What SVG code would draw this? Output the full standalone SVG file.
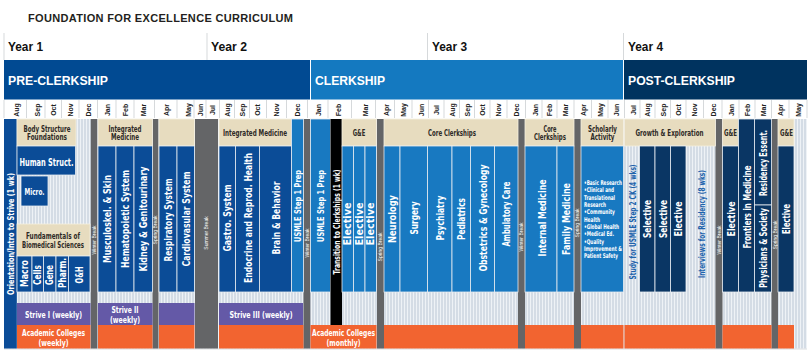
<svg xmlns="http://www.w3.org/2000/svg" width="810" height="361" viewBox="0 0 810 361">
<defs>
<pattern id="stripe" patternUnits="userSpaceOnUse" x="0" y="0" width="3" height="10">
<rect width="3" height="10" fill="#d4dce5"/>
<rect x="2" width="1" height="10" fill="#eef2f6"/>
</pattern>
<style>
.title{font-family:"Liberation Sans",Arial,sans-serif;font-weight:700;font-size:11px;fill:#231f20}
.yr{font-family:"Liberation Sans",Arial,sans-serif;font-weight:700;font-size:13px;fill:#111}
.ph{font-family:"Liberation Sans",Arial,sans-serif;font-weight:700;font-size:13.5px;fill:#fff}
.mo{font-family:"Liberation Sans",Arial,sans-serif;font-weight:700;font-size:7px;fill:#222;text-anchor:middle}
.c{font-family:"Liberation Sans Narrow","DejaVu Sans Condensed","Liberation Sans",sans-serif;font-weight:700;text-anchor:middle}
.cl{font-family:"Liberation Sans Narrow","DejaVu Sans Condensed","Liberation Sans",sans-serif;font-weight:700;font-size:6.5px;fill:#fff}
.w{fill:#fff}
.d{fill:#2e2a26}
.bl{fill:#1d63ac}
.brk{font-family:"Liberation Sans",Arial,sans-serif;font-size:5px;fill:#fff;text-anchor:middle}
.db{fill:#0b4c97;stroke:#e6ebf1;stroke-width:0.8}
.mb{fill:#1879c1;stroke:#e6ebf1;stroke-width:0.8}
.nv{fill:#0a3664;stroke:#e6ebf1;stroke-width:0.8}
.tan{fill:#e7dcbf;stroke:#f4efe2;stroke-width:0.8}
.pu{fill:#6459a7}
.or{fill:#f26430}
.gr{fill:#646567}
.sep{stroke:#c4c8cc;stroke-width:0.7}
</style>
</defs>

<rect width="810" height="361" fill="#fff"/>

<g id="title">
<text class="title" x="28" y="22" textLength="265" lengthAdjust="spacing">FOUNDATION FOR EXCELLENCE CURRICULUM</text>
</g>

<g id="years">
<line class="sep" x1="4" y1="33" x2="4" y2="60"/>
<line class="sep" x1="207" y1="33" x2="207" y2="60"/>
<line class="sep" x1="427.5" y1="33" x2="427.5" y2="60"/>
<line class="sep" x1="623.5" y1="33" x2="623.5" y2="60"/>
<text class="yr" x="8" y="51" textLength="35" lengthAdjust="spacingAndGlyphs">Year 1</text>
<text class="yr" x="211" y="51" textLength="36" lengthAdjust="spacingAndGlyphs">Year 2</text>
<text class="yr" x="432" y="51" textLength="35" lengthAdjust="spacingAndGlyphs">Year 3</text>
<text class="yr" x="628" y="51" textLength="35" lengthAdjust="spacingAndGlyphs">Year 4</text>
</g>

<g id="phases">
<rect x="4" y="60" width="306" height="39.5" fill="#014a92"/>
<rect x="311" y="60" width="312" height="39.5" fill="#1479c0"/>
<rect x="624" y="60" width="183" height="39.5" fill="#00335f"/>
<text class="ph" x="8" y="85" textLength="100" lengthAdjust="spacingAndGlyphs">PRE-CLERKSHIP</text>
<text class="ph" x="315" y="85" textLength="70" lengthAdjust="spacingAndGlyphs">CLERKSHIP</text>
<text class="ph" x="628" y="85" textLength="107" lengthAdjust="spacingAndGlyphs">POST-CLERKSHIP</text>
</g>

<g id="months">
<g>
<line class="sep" x1="4" y1="100" x2="4" y2="118"/>
<line class="sep" x1="26.5" y1="100" x2="26.5" y2="118"/>
<line class="sep" x1="45" y1="100" x2="45" y2="118"/>
<line class="sep" x1="61.5" y1="100" x2="61.5" y2="118"/>
<line class="sep" x1="79" y1="100" x2="79" y2="118"/>
<line class="sep" x1="97.5" y1="100" x2="97.5" y2="118"/>
<line class="sep" x1="116" y1="100" x2="116" y2="118"/>
<line class="sep" x1="134" y1="100" x2="134" y2="118"/>
<line class="sep" x1="154.5" y1="100" x2="154.5" y2="118"/>
<line class="sep" x1="177" y1="100" x2="177" y2="118"/>
<line class="sep" x1="194" y1="100" x2="194" y2="118"/>
<line class="sep" x1="206" y1="100" x2="206" y2="118"/>
<line class="sep" x1="219.5" y1="100" x2="219.5" y2="118"/>
<line class="sep" x1="234.5" y1="100" x2="234.5" y2="118"/>
<line class="sep" x1="249.5" y1="100" x2="249.5" y2="118"/>
<line class="sep" x1="266.5" y1="100" x2="266.5" y2="118"/>
<line class="sep" x1="286.5" y1="100" x2="286.5" y2="118"/>
<line class="sep" x1="307.5" y1="100" x2="307.5" y2="118"/>
<line class="sep" x1="328" y1="100" x2="328" y2="118"/>
<line class="sep" x1="351.5" y1="100" x2="351.5" y2="118"/>
<line class="sep" x1="375.5" y1="100" x2="375.5" y2="118"/>
<line class="sep" x1="394.5" y1="100" x2="394.5" y2="118"/>
<line class="sep" x1="412" y1="100" x2="412" y2="118"/>
<line class="sep" x1="428.5" y1="100" x2="428.5" y2="118"/>
<line class="sep" x1="444" y1="100" x2="444" y2="118"/>
<line class="sep" x1="459.5" y1="100" x2="459.5" y2="118"/>
<line class="sep" x1="474.5" y1="100" x2="474.5" y2="118"/>
<line class="sep" x1="490" y1="100" x2="490" y2="118"/>
<line class="sep" x1="507" y1="100" x2="507" y2="118"/>
<line class="sep" x1="525.5" y1="100" x2="525.5" y2="118"/>
<line class="sep" x1="542" y1="100" x2="542" y2="118"/>
<line class="sep" x1="557" y1="100" x2="557" y2="118"/>
<line class="sep" x1="574" y1="100" x2="574" y2="118"/>
<line class="sep" x1="591.5" y1="100" x2="591.5" y2="118"/>
<line class="sep" x1="608" y1="100" x2="608" y2="118"/>
<line class="sep" x1="624.5" y1="100" x2="624.5" y2="118"/>
<line class="sep" x1="640" y1="100" x2="640" y2="118"/>
<line class="sep" x1="655" y1="100" x2="655" y2="118"/>
<line class="sep" x1="670.5" y1="100" x2="670.5" y2="118"/>
<line class="sep" x1="686" y1="100" x2="686" y2="118"/>
<line class="sep" x1="703.5" y1="100" x2="703.5" y2="118"/>
<line class="sep" x1="722" y1="100" x2="722" y2="118"/>
<line class="sep" x1="739" y1="100" x2="739" y2="118"/>
<line class="sep" x1="755" y1="100" x2="755" y2="118"/>
<line class="sep" x1="771.5" y1="100" x2="771.5" y2="118"/>
<line class="sep" x1="789" y1="100" x2="789" y2="118"/>
<line class="sep" x1="807" y1="100" x2="807" y2="118"/>
</g>
<text class="mo" transform="translate(16,110) rotate(-90)" y="2.5">Aug</text>
<text class="mo" transform="translate(37,110) rotate(-90)" y="2.5">Sep</text>
<text class="mo" transform="translate(53,110) rotate(-90)" y="2.5">Oct</text>
<text class="mo" transform="translate(70,110) rotate(-90)" y="2.5">Nov</text>
<text class="mo" transform="translate(88,110) rotate(-90)" y="2.5">Dec</text>
<text class="mo" transform="translate(107,110) rotate(-90)" y="2.5">Jan</text>
<text class="mo" transform="translate(125,110) rotate(-90)" y="2.5">Feb</text>
<text class="mo" transform="translate(143,110) rotate(-90)" y="2.5">Mar</text>
<text class="mo" transform="translate(166,110) rotate(-90)" y="2.5">Apr</text>
<text class="mo" transform="translate(188,110) rotate(-90)" y="2.5">May</text>
<text class="mo" transform="translate(200,110) rotate(-90)" y="2.5">Jun</text>
<text class="mo" transform="translate(212,110) rotate(-90)" y="2.5">Jul</text>
<text class="mo" transform="translate(227,110) rotate(-90)" y="2.5">Aug</text>
<text class="mo" transform="translate(242,110) rotate(-90)" y="2.5">Sep</text>
<text class="mo" transform="translate(257,110) rotate(-90)" y="2.5">Oct</text>
<text class="mo" transform="translate(276,110) rotate(-90)" y="2.5">Nov</text>
<text class="mo" transform="translate(297,110) rotate(-90)" y="2.5">Dec</text>
<text class="mo" transform="translate(318,110) rotate(-90)" y="2.5">Jan</text>
<text class="mo" transform="translate(338,110) rotate(-90)" y="2.5">Feb</text>
<text class="mo" transform="translate(365,110) rotate(-90)" y="2.5">Mar</text>
<text class="mo" transform="translate(386,110) rotate(-90)" y="2.5">Apr</text>
<text class="mo" transform="translate(403,110) rotate(-90)" y="2.5">May</text>
<text class="mo" transform="translate(421,110) rotate(-90)" y="2.5">Jun</text>
<text class="mo" transform="translate(436,110) rotate(-90)" y="2.5">Jul</text>
<text class="mo" transform="translate(452,110) rotate(-90)" y="2.5">Aug</text>
<text class="mo" transform="translate(467,110) rotate(-90)" y="2.5">Sep</text>
<text class="mo" transform="translate(482,110) rotate(-90)" y="2.5">Oct</text>
<text class="mo" transform="translate(498,110) rotate(-90)" y="2.5">Nov</text>
<text class="mo" transform="translate(516,110) rotate(-90)" y="2.5">Dec</text>
<text class="mo" transform="translate(535,110) rotate(-90)" y="2.5">Jan</text>
<text class="mo" transform="translate(549,110) rotate(-90)" y="2.5">Feb</text>
<text class="mo" transform="translate(565,110) rotate(-90)" y="2.5">Mar</text>
<text class="mo" transform="translate(583,110) rotate(-90)" y="2.5">Apr</text>
<text class="mo" transform="translate(600,110) rotate(-90)" y="2.5">May</text>
<text class="mo" transform="translate(616,110) rotate(-90)" y="2.5">Jun</text>
<text class="mo" transform="translate(633,110) rotate(-90)" y="2.5">Jul</text>
<text class="mo" transform="translate(647,110) rotate(-90)" y="2.5">Aug</text>
<text class="mo" transform="translate(663,110) rotate(-90)" y="2.5">Sep</text>
<text class="mo" transform="translate(678,110) rotate(-90)" y="2.5">Oct</text>
<text class="mo" transform="translate(694,110) rotate(-90)" y="2.5">Nov</text>
<text class="mo" transform="translate(713,110) rotate(-90)" y="2.5">Dec</text>
<text class="mo" transform="translate(731,110) rotate(-90)" y="2.5">Jan</text>
<text class="mo" transform="translate(747,110) rotate(-90)" y="2.5">Feb</text>
<text class="mo" transform="translate(763,110) rotate(-90)" y="2.5">Mar</text>
<text class="mo" transform="translate(780,110) rotate(-90)" y="2.5">Apr</text>
<text class="mo" transform="translate(798,110) rotate(-90)" y="2.5">May</text>
</g>

<g id="background">
<rect x="4" y="119" width="803" height="229.5" fill="url(#stripe)"/>
<line x1="4" y1="349" x2="807" y2="349" stroke="#d0d4d8" stroke-width="0.8"/>
</g>

<g id="breaks">
<rect class="gr" x="90.8" y="119" width="6.5" height="229.5"/>
<rect class="gr" x="152.5" y="119" width="6" height="229.5"/>
<rect class="gr" x="195" y="119" width="23" height="229.5"/>
<rect class="gr" x="303.5" y="119" width="6.8" height="229.5"/>
<rect class="gr" x="377" y="119" width="7" height="229.5"/>
<rect class="gr" x="518" y="119" width="7" height="229.5"/>
<rect class="gr" x="574" y="119" width="7" height="229.5"/>
<rect class="gr" x="715.5" y="119" width="7" height="229.5"/>
<rect class="gr" x="771.5" y="119" width="6.5" height="229.5"/>
<text class="brk" transform="translate(94,240) rotate(-90)" y="1.8">Winter Break</text>
<text class="brk" transform="translate(155.5,230) rotate(-90)" y="1.8">Spring Break</text>
<text class="brk" transform="translate(206.5,233) rotate(-90)" y="1.8">Summer Break</text>
<text class="brk" transform="translate(307,243) rotate(-90)" y="1.8">Winter Break</text>
<text class="brk" transform="translate(380.5,247) rotate(-90)" y="1.8">Spring Break</text>
<text class="brk" transform="translate(521.5,237) rotate(-90)" y="1.8">Winter Break</text>
<text class="brk" transform="translate(577.5,223) rotate(-90)" y="1.8">Spring Break</text>
<text class="brk" transform="translate(719,240) rotate(-90)" y="1.8">Winter Break</text>
<text class="brk" transform="translate(775,235) rotate(-90)" y="1.8">Spring Break</text>
</g>

<g id="orientation">
<rect x="4" y="119" width="12.8" height="229.5" fill="#0b4c97"/>
<text class="c w" transform="translate(10.5,234) rotate(-90)" y="3.2" font-size="9" textLength="122" lengthAdjust="spacingAndGlyphs">Orientation/Intro to Strive (1 wk)</text>
</g>

<g id="body-structure">
<rect class="tan" x="17" y="119" width="59" height="27"/>
<text class="c d" x="47" y="131.5" font-size="8.5" textLength="47" lengthAdjust="spacingAndGlyphs">Body Structure</text>
<text class="c d" x="47" y="140" font-size="8.5" textLength="40" lengthAdjust="spacingAndGlyphs">Foundations</text>
</g>
<g id="human-struct">
<rect class="db" x="17" y="146" width="58.5" height="29"/>
<text class="c w" x="46.5" y="165.5" font-size="11" textLength="54" lengthAdjust="spacingAndGlyphs">Human Struct.</text>
</g>
<g id="micro">
<rect class="db" x="21" y="176" width="27" height="30"/>
<text class="c w" x="34.5" y="194.5" font-size="9.5" textLength="20" lengthAdjust="spacingAndGlyphs">Micro.</text>
</g>
<g id="fundamentals">
<rect class="tan" x="17" y="224" width="73" height="32"/>
<text class="c d" x="53" y="239" font-size="9" textLength="54" lengthAdjust="spacingAndGlyphs">Fundamentals of</text>
<text class="c d" x="53" y="248" font-size="9" textLength="62" lengthAdjust="spacingAndGlyphs">Biomedical Sciences</text>
</g>
<g id="macro">
<rect class="db" x="17" y="256" width="15" height="36"/>
<text class="c w" transform="translate(24.5,273.5) rotate(-90)" y="3.6" font-size="10" textLength="27" lengthAdjust="spacingAndGlyphs">Macro</text>
</g>
<g id="cells">
<rect class="db" x="32" y="256" width="11.5" height="36"/>
<text class="c w" transform="translate(37.8,275) rotate(-90)" y="3.6" font-size="10" textLength="20" lengthAdjust="spacingAndGlyphs">Cells</text>
</g>
<g id="gene">
<rect class="db" x="43.5" y="256" width="12.5" height="36"/>
<text class="c w" transform="translate(49.8,275) rotate(-90)" y="3.6" font-size="10" textLength="20" lengthAdjust="spacingAndGlyphs">Gene</text>
</g>
<g id="pharm">
<rect class="db" x="56" y="256" width="12.5" height="36"/>
<text class="c w" transform="translate(62.3,273) rotate(-90)" y="3.6" font-size="10" textLength="30" lengthAdjust="spacingAndGlyphs">Pharm.</text>
</g>
<g id="oh">
<rect class="db" x="68.5" y="256" width="21.5" height="36"/>
<text class="c w" transform="translate(79.5,275) rotate(-90)" y="3.6" font-size="10" textLength="17" lengthAdjust="spacingAndGlyphs">O&amp;H</text>
</g>
<g id="strive1">
<rect class="pu" x="17" y="303" width="73.5" height="22"/>
<text class="c w" x="53.5" y="317.5" font-size="9.5" textLength="57" lengthAdjust="spacingAndGlyphs">Strive I (weekly)</text>
</g>
<g id="colleges-weekly">
<rect class="or" x="17" y="325" width="73.5" height="23.5"/>
<text class="c w" x="53.5" y="335.5" font-size="9.5" textLength="63" lengthAdjust="spacingAndGlyphs">Academic Colleges</text>
<text class="c w" x="53.5" y="346" font-size="9.5" textLength="30" lengthAdjust="spacingAndGlyphs">(weekly)</text>
</g>

<g id="integrated-medicine-1">
<rect class="tan" x="98" y="119" width="54.5" height="27"/>
<text class="c d" x="125" y="131.5" font-size="8.5" textLength="33" lengthAdjust="spacingAndGlyphs">Integrated</text>
<text class="c d" x="125" y="140" font-size="8.5" textLength="28" lengthAdjust="spacingAndGlyphs">Medicine</text>
</g>
<g id="musculoskel">
<rect class="db" x="98" y="146" width="18" height="146"/>
<text class="c w" transform="translate(107,219) rotate(-90)" y="4" font-size="11" textLength="88" lengthAdjust="spacingAndGlyphs">Musculoskel. &amp; Skin</text>
</g>
<g id="hematopoietic">
<rect class="db" x="116" y="146" width="18" height="146"/>
<text class="c w" transform="translate(125,219) rotate(-90)" y="4" font-size="11" textLength="98" lengthAdjust="spacingAndGlyphs">Hematopoietic System</text>
</g>
<g id="kidney">
<rect class="db" x="134" y="146" width="18.5" height="146"/>
<text class="c w" transform="translate(143.3,219) rotate(-90)" y="4" font-size="11" textLength="105" lengthAdjust="spacingAndGlyphs">Kidney &amp; Genitourinary</text>
</g>
<g id="strive2">
<rect class="pu" x="98" y="303" width="54.5" height="22"/>
<text class="c w" x="125" y="312.5" font-size="9.5" textLength="27" lengthAdjust="spacingAndGlyphs">Strive II</text>
<text class="c w" x="125" y="323" font-size="9.5" textLength="30" lengthAdjust="spacingAndGlyphs">(weekly)</text>
</g>
<g id="colleges-y1b">
<rect class="or" x="98" y="325" width="54.5" height="23.5"/>
</g>

<g id="spring-block-y1">
<rect class="tan" x="159" y="119" width="35.5" height="27"/>
<rect class="pu" x="159" y="303" width="35.5" height="22"/>
<rect class="or" x="159" y="325" width="35.5" height="23.5"/>
</g>
<g id="respiratory">
<rect class="db" x="159" y="146" width="18" height="146"/>
<text class="c w" transform="translate(168,220) rotate(-90)" y="4" font-size="11" textLength="83" lengthAdjust="spacingAndGlyphs">Respiratory System</text>
</g>
<g id="cardiovascular">
<rect class="db" x="177" y="146" width="17.5" height="146"/>
<text class="c w" transform="translate(185.8,219) rotate(-90)" y="4" font-size="11" textLength="95" lengthAdjust="spacingAndGlyphs">Cardiovasular System</text>
</g>

<g id="integrated-medicine-2">
<rect class="tan" x="219" y="119" width="72.5" height="27"/>
<text class="c d" x="255" y="136" font-size="9" textLength="64" lengthAdjust="spacingAndGlyphs">Integrated Medicine</text>
</g>
<g id="gastro">
<rect class="db" x="219" y="146" width="16.5" height="146"/>
<text class="c w" transform="translate(227.3,218) rotate(-90)" y="4" font-size="11" textLength="67" lengthAdjust="spacingAndGlyphs">Gastro. System</text>
</g>
<g id="endocrine">
<rect class="db" x="235.5" y="146" width="24" height="146"/>
<text class="c w" transform="translate(247.5,218) rotate(-90)" y="4" font-size="11" textLength="130" lengthAdjust="spacingAndGlyphs">Endocrine and Reprod. Health</text>
</g>
<g id="brain">
<rect class="db" x="259.5" y="146" width="32" height="146"/>
<text class="c w" transform="translate(275.5,218) rotate(-90)" y="4" font-size="11" textLength="73" lengthAdjust="spacingAndGlyphs">Brain &amp; Behavior</text>
</g>
<g id="usmle-prep-1">
<rect class="mb" x="291.5" y="119" width="12" height="173"/>
<text class="c w" transform="translate(297.5,206) rotate(-90)" y="3.5" font-size="9.5" textLength="72" lengthAdjust="spacingAndGlyphs">USMLE Step 1 Prep</text>
</g>
<g id="strive3">
<rect class="pu" x="219" y="303" width="84" height="22"/>
<text class="c w" x="261" y="317.5" font-size="9.5" textLength="63" lengthAdjust="spacingAndGlyphs">Strive III (weekly)</text>
</g>
<g id="colleges-y2">
<rect class="or" x="219" y="325" width="84.5" height="23.5"/>
</g>

<g id="usmle-prep-2">
<rect class="mb" x="310.5" y="119" width="20" height="173"/>
<text class="c w" transform="translate(320.5,206) rotate(-90)" y="3.5" font-size="9.5" textLength="72" lengthAdjust="spacingAndGlyphs">USMLE Step 1 Prep</text>
</g>
<g id="transition">
<rect x="330.5" y="119" width="11.5" height="206" fill="#000"/>
<text class="c w" transform="translate(336.3,222) rotate(-90)" y="3.2" font-size="9" textLength="105" lengthAdjust="spacingAndGlyphs">Transition to Clerkships (1 wk)</text>
</g>
<g id="ge-y3">
<rect class="tan" x="342" y="119" width="34.5" height="27"/>
<text class="c d" x="359" y="136" font-size="9" textLength="12.5" lengthAdjust="spacingAndGlyphs">G&amp;E</text>
</g>
<g id="elective-y3a">
<rect class="mb" x="342" y="146" width="11.5" height="146"/>
<text class="c w" transform="translate(347.8,224) rotate(-90)" y="3.6" font-size="10" textLength="43" lengthAdjust="spacingAndGlyphs">Elective</text>
</g>
<g id="elective-y3b">
<rect class="mb" x="353.5" y="146" width="11.5" height="146"/>
<text class="c w" transform="translate(359.3,224) rotate(-90)" y="3.6" font-size="10" textLength="43" lengthAdjust="spacingAndGlyphs">Elective</text>
</g>
<g id="elective-y3c">
<rect class="mb" x="365" y="146" width="11.5" height="146"/>
<text class="c w" transform="translate(370.8,224) rotate(-90)" y="3.6" font-size="10" textLength="43" lengthAdjust="spacingAndGlyphs">Elective</text>
</g>
<g id="colleges-monthly">
<rect class="or" x="310.5" y="325" width="66" height="23.5"/>
<text class="c w" x="343.5" y="335.5" font-size="9.5" textLength="63" lengthAdjust="spacingAndGlyphs">Academic Colleges</text>
<text class="c w" x="343.5" y="346" font-size="9.5" textLength="34" lengthAdjust="spacingAndGlyphs">(monthly)</text>
</g>

<g id="core-clerkships-1">
<rect class="tan" x="384" y="119" width="134" height="27"/>
<text class="c d" x="452" y="136" font-size="9" textLength="48" lengthAdjust="spacingAndGlyphs">Core Clerkships</text>
<rect class="or" x="384" y="325" width="134" height="23.5"/>
</g>
<g id="neurology">
<rect class="mb" x="384" y="146" width="16" height="146"/>
<text class="c w" transform="translate(392.3,219) rotate(-90)" y="4" font-size="11" textLength="48" lengthAdjust="spacingAndGlyphs">Neurology</text>
</g>
<g id="surgery">
<rect class="mb" x="400" y="146" width="27.5" height="146"/>
<text class="c w" transform="translate(413.8,218) rotate(-90)" y="4" font-size="11" textLength="33" lengthAdjust="spacingAndGlyphs">Surgery</text>
</g>
<g id="psychiatry">
<rect class="mb" x="427.5" y="146" width="24.5" height="146"/>
<text class="c w" transform="translate(439.8,218) rotate(-90)" y="4" font-size="11" textLength="45" lengthAdjust="spacingAndGlyphs">Psychiatry</text>
</g>
<g id="pediatrics">
<rect class="mb" x="452" y="146" width="18.5" height="146"/>
<text class="c w" transform="translate(461.3,219) rotate(-90)" y="4" font-size="11" textLength="42" lengthAdjust="spacingAndGlyphs">Pediatrics</text>
</g>
<g id="obgyn">
<rect class="mb" x="470.5" y="146" width="24" height="146"/>
<text class="c w" transform="translate(482.5,218) rotate(-90)" y="4" font-size="11" textLength="107" lengthAdjust="spacingAndGlyphs">Obstetrics &amp; Gynecology</text>
</g>
<g id="ambulatory">
<rect class="mb" x="494.5" y="146" width="23.5" height="146"/>
<text class="c w" transform="translate(506.3,214) rotate(-90)" y="4" font-size="11" textLength="65" lengthAdjust="spacingAndGlyphs">Ambulatory Care</text>
</g>

<g id="core-clerkships-2">
<rect class="tan" x="525" y="119" width="49" height="27"/>
<text class="c d" x="550" y="131.5" font-size="8.5" textLength="13" lengthAdjust="spacingAndGlyphs">Core</text>
<text class="c d" x="550" y="140" font-size="8.5" textLength="32" lengthAdjust="spacingAndGlyphs">Clerkships</text>
<rect class="or" x="525" y="325" width="49" height="23.5"/>
</g>
<g id="internal-medicine">
<rect class="mb" x="525" y="146" width="32" height="146"/>
<text class="c w" transform="translate(541.5,218) rotate(-90)" y="4" font-size="11" textLength="77" lengthAdjust="spacingAndGlyphs">Internal Medicine</text>
</g>
<g id="family-medicine">
<rect class="mb" x="557" y="146" width="17" height="146"/>
<text class="c w" transform="translate(565.5,219) rotate(-90)" y="4" font-size="11" textLength="72" lengthAdjust="spacingAndGlyphs">Family Medicine</text>
</g>

<g id="scholarly">
<rect class="tan" x="581" y="119" width="42.5" height="27"/>
<text class="c d" x="602.5" y="131.5" font-size="8.5" textLength="29" lengthAdjust="spacingAndGlyphs">Scholarly</text>
<text class="c d" x="602.5" y="140" font-size="8.5" textLength="24" lengthAdjust="spacingAndGlyphs">Activity</text>
<rect class="mb" x="581" y="146" width="42.5" height="146"/>
<text class="cl" x="584" y="185" textLength="38" lengthAdjust="spacingAndGlyphs">•Basic Research</text>
<text class="cl" x="584" y="192.3" textLength="30" lengthAdjust="spacingAndGlyphs">•Clinical and</text>
<text class="cl" x="584" y="199.6" textLength="31" lengthAdjust="spacingAndGlyphs">Translational</text>
<text class="cl" x="584" y="207" textLength="22" lengthAdjust="spacingAndGlyphs">Research</text>
<text class="cl" x="584" y="214.3" textLength="31" lengthAdjust="spacingAndGlyphs">•Community</text>
<text class="cl" x="584" y="221.6" textLength="16" lengthAdjust="spacingAndGlyphs">Health</text>
<text class="cl" x="584" y="229" textLength="35" lengthAdjust="spacingAndGlyphs">•Global Health</text>
<text class="cl" x="584" y="236.3" textLength="30" lengthAdjust="spacingAndGlyphs">•Medical Ed.</text>
<text class="cl" x="584" y="243.6" textLength="20" lengthAdjust="spacingAndGlyphs">•Quality</text>
<text class="cl" x="584" y="251" textLength="38" lengthAdjust="spacingAndGlyphs">Improvement &amp;</text>
<text class="cl" x="584" y="258.3" textLength="34" lengthAdjust="spacingAndGlyphs">Patient Safety</text>
<rect class="or" x="581" y="325" width="42.5" height="23.5"/>
</g>

<g id="growth-exploration">
<rect class="tan" x="624.5" y="119" width="91" height="27"/>
<text class="c d" x="669.5" y="136" font-size="9" textLength="68" lengthAdjust="spacingAndGlyphs">Growth &amp; Exploration</text>
<rect class="or" x="624.5" y="325" width="91" height="23.5"/>
</g>
<g id="study-step2">
<text class="c bl" transform="translate(632.3,222) rotate(-90)" y="3.2" font-size="9" textLength="115" lengthAdjust="spacingAndGlyphs">Study for USMLE Step 2 CK (4 wks)</text>
</g>
<g id="selective-a">
<rect class="nv" x="639.5" y="146" width="15.5" height="146"/>
<text class="c w" transform="translate(647.3,219) rotate(-90)" y="4" font-size="11" textLength="38" lengthAdjust="spacingAndGlyphs">Selective</text>
</g>
<g id="selective-b">
<rect class="nv" x="655" y="146" width="15.5" height="146"/>
<text class="c w" transform="translate(662.8,219) rotate(-90)" y="4" font-size="11" textLength="38" lengthAdjust="spacingAndGlyphs">Selective</text>
</g>
<g id="elective-y4a">
<rect class="nv" x="670.5" y="146" width="15.5" height="146"/>
<text class="c w" transform="translate(678.3,219) rotate(-90)" y="4" font-size="11" textLength="35" lengthAdjust="spacingAndGlyphs">Elective</text>
</g>
<g id="interviews">
<text class="c bl" transform="translate(702,224) rotate(-90)" y="3.2" font-size="9" textLength="108" lengthAdjust="spacingAndGlyphs">Interviews for Residency (8 wks)</text>
</g>

<g id="ge-y4a">
<rect class="tan" x="722.5" y="119" width="16" height="27"/>
<text class="c d" x="730.5" y="136" font-size="9" textLength="13" lengthAdjust="spacingAndGlyphs">G&amp;E</text>
<rect class="or" x="722.5" y="325" width="49" height="23.5"/>
</g>
<g id="elective-y4b">
<rect class="nv" x="722.5" y="146" width="16" height="146"/>
<text class="c w" transform="translate(730.5,219) rotate(-90)" y="4" font-size="11" textLength="35" lengthAdjust="spacingAndGlyphs">Elective</text>
</g>
<g id="frontiers">
<rect class="nv" x="738.5" y="119" width="16" height="173"/>
<text class="c w" transform="translate(746.5,207) rotate(-90)" y="4" font-size="11" textLength="83" lengthAdjust="spacingAndGlyphs">Frontiers in Medicine</text>
</g>
<g id="residency-essent">
<rect class="nv" x="754.5" y="119" width="17" height="86"/>
<text class="c w" transform="translate(763,163) rotate(-90)" y="4" font-size="11" textLength="66" lengthAdjust="spacingAndGlyphs">Residency Essent.</text>
</g>
<g id="physicians-society">
<rect class="nv" x="754.5" y="205" width="17" height="87"/>
<text class="c w" transform="translate(763,248) rotate(-90)" y="4" font-size="11" textLength="80" lengthAdjust="spacingAndGlyphs">Physicians &amp; Society</text>
</g>

<g id="ge-y4b">
<rect class="tan" x="778" y="119" width="16" height="27"/>
<text class="c d" x="786.5" y="136" font-size="9" textLength="13" lengthAdjust="spacingAndGlyphs">G&amp;E</text>
<rect class="or" x="778" y="325" width="16" height="23.5"/>
</g>
<g id="elective-y4c">
<rect class="nv" x="778" y="146" width="16" height="146"/>
<text class="c w" transform="translate(786.3,219) rotate(-90)" y="3.8" font-size="10.5" textLength="30" lengthAdjust="spacingAndGlyphs">Elective</text>
</g>
</svg>
